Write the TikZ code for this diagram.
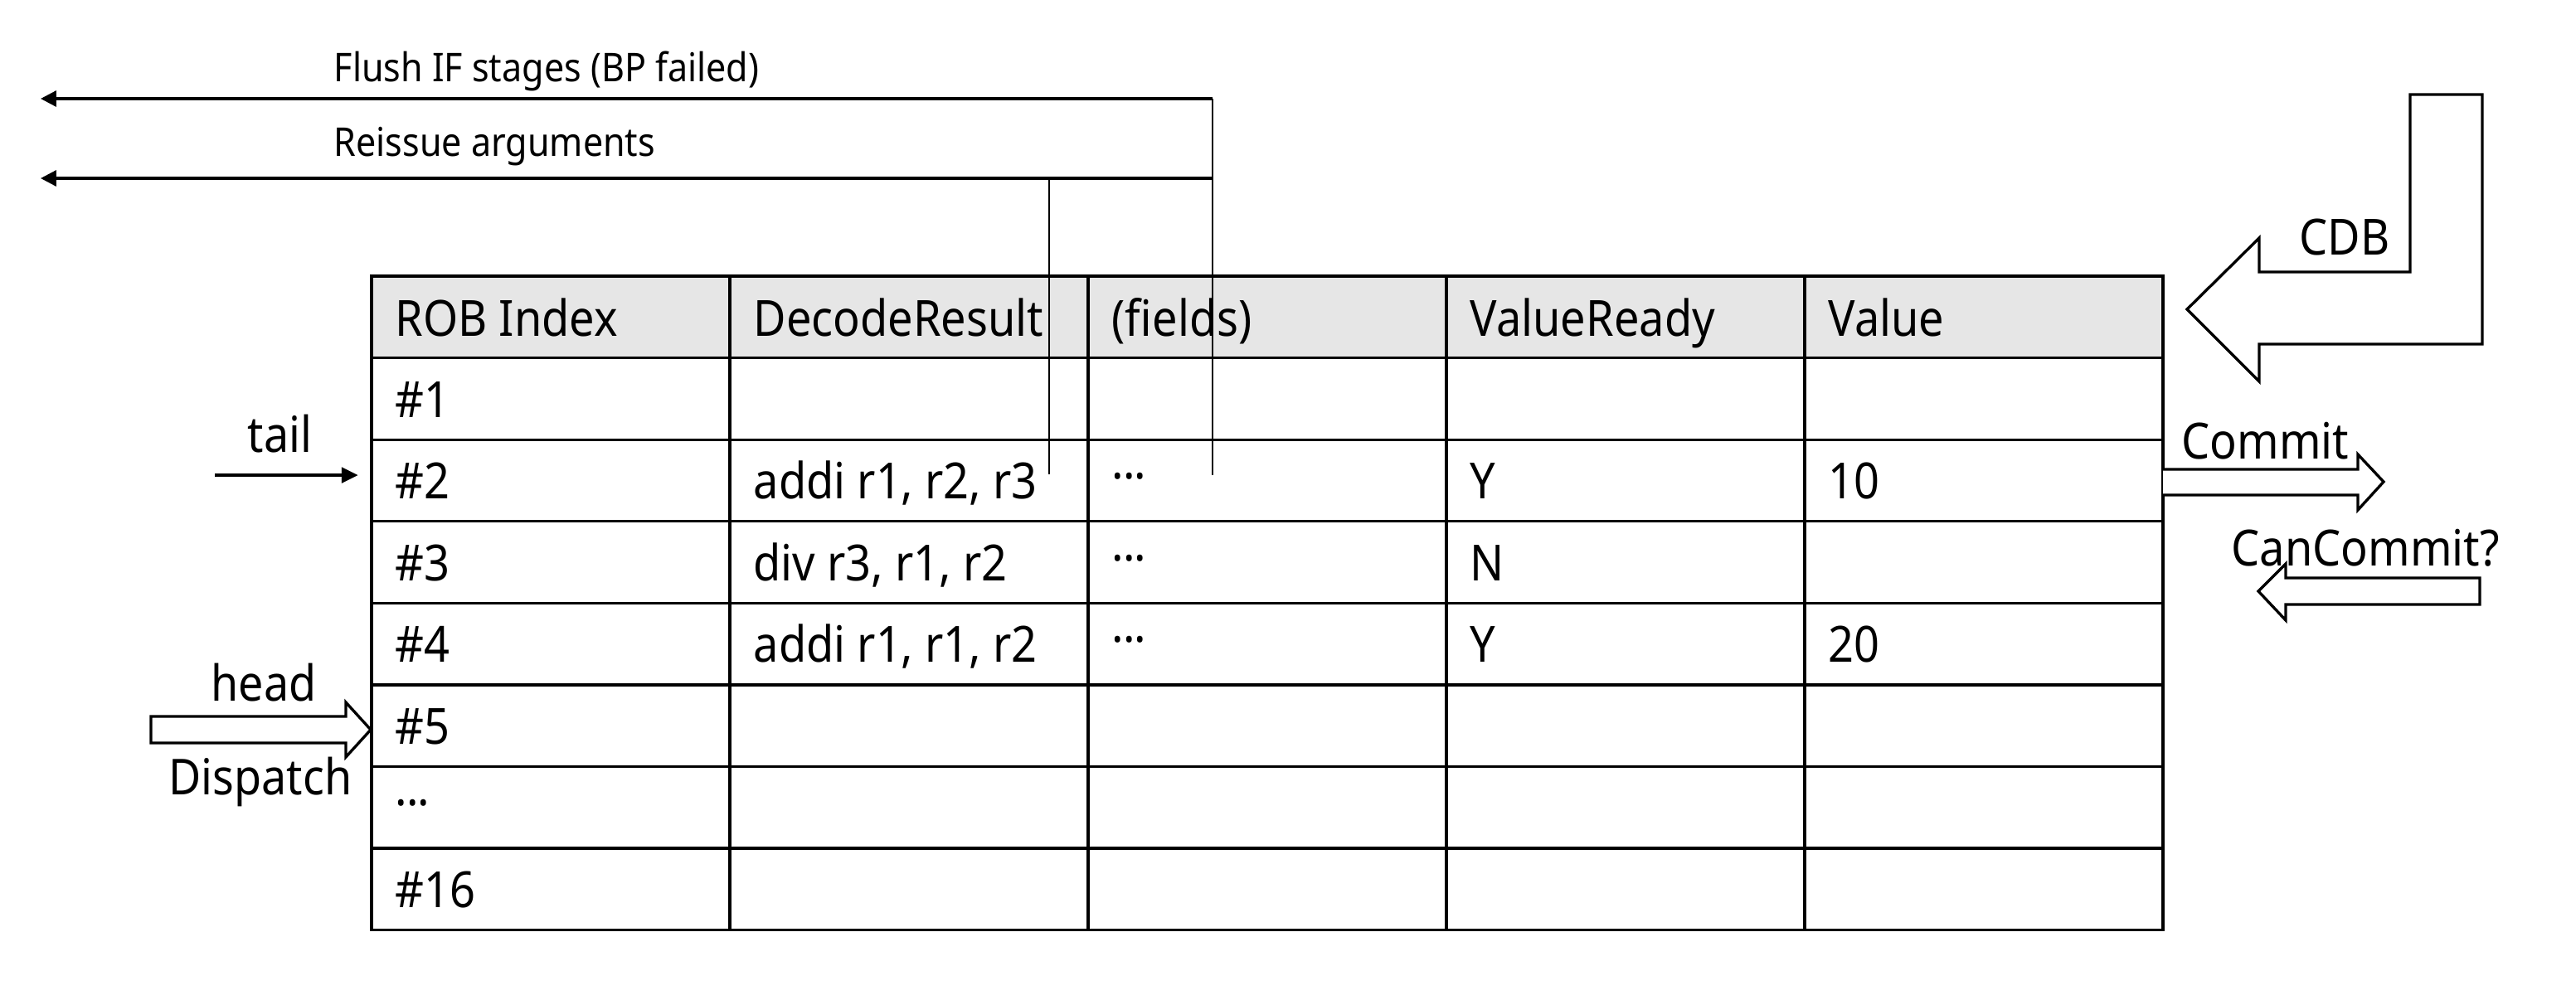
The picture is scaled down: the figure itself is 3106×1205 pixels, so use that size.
\documentclass[tikz,border=0pt]{standalone}
\usepackage{fontspec}
\setmainfont{Noto Sans}[FakeStretch=0.9]
\usetikzlibrary{arrows.meta}
\definecolor{headgray}{RGB}{230,230,230}
% centred three-dot ellipsis used in the table
\newcommand\middots{\raisebox{0.1em}{·\kern-0.02em·\kern-0.02em·}}
\begin{document}
\begin{tikzpicture}[x=0.01cm,y=-0.01cm,
  grid/.style={line width=0.9pt},
  celltext/.style={anchor=base west, inner sep=0pt, font=\fontsize{17.1}{20}\selectfont},
  sidelabel/.style={anchor=base west, inner sep=0pt, font=\fontsize{17}{20}\selectfont},
  wirelabel/.style={anchor=base west, inner sep=0pt, font=\fontsize{13.6}{16}\selectfont},
  wire/.style={line width=0.95pt, -{Triangle[length=5.4pt,width=5.4pt]}},
  tap/.style={line width=0.6pt},
  pointer/.style={line width=1.4pt, -{Triangle[length=5.7pt,width=5.1pt]}},
  hollow/.style={draw, line width=0.95pt, fill=white, line join=miter},
]
\useasboundingbox (0,0) rectangle (3106,1205);

% ---- reorder buffer table ----
\fill[headgray] (448,333) rectangle (2608,431.6);
\foreach \y in {431.6,530.1,628.7,727.3,825.9,924.4,1023}
  \draw[grid] (448,\y) -- (2608,\y);
\foreach \x in {880,1312,1744,2176}
  \draw[grid] (\x,333) -- (\x,1121.6);
\draw[grid] (448,333) rectangle (2608,1121.6);

% header row
\node[celltext] (hidx)  at (476,405) {ROB Index};
\node[celltext] (hdec)  at (908,405) {DecodeResult};
\node[celltext] (hfld)  at (1340,405) {(fields)};
\node[celltext] (hrdy)  at (1772,405) {ValueReady};
\node[celltext] (hval)  at (2204,405) {Value};

% entries
\node[celltext] (e1)  at (476,503)   {\#1};
\node[celltext] (e2)  at (476,601.5) {\#2};
\node[celltext] (e3)  at (476,700)   {\#3};
\node[celltext] (e4)  at (476,798.6) {\#4};
\node[celltext] (e5)  at (476,897)   {\#5};
\node[celltext] (e6)  at (476,995.7) {\middots};
\node[celltext] (e16) at (476,1094)  {\#16};

\node[celltext] (d2) at (908,601.5) {addi r1, r2, r3};
\node[celltext] (d3) at (908,700)   {div r3, r1, r2};
\node[celltext] (d4) at (908,798.6) {addi r1, r1, r2};

\node[celltext] (f2) at (1340,601.5) {\middots};
\node[celltext] (f3) at (1340,700)   {\middots};
\node[celltext] (f4) at (1340,798.6) {\middots};

\node[celltext] (r2) at (1772,601.5) {Y};
\node[celltext] (r3) at (1772,700)   {N};
\node[celltext] (r4) at (1772,798.6) {Y};

\node[celltext] (v2) at (2204,601.5) {10};
\node[celltext] (v4) at (2204,798.6) {20};

% ---- flush / reissue wires ----
\coordinate (flushtap)   at (1462,573);
\coordinate (flushbend)  at (1462,119);
\coordinate (flushend)   at (49,119);
\coordinate (reissuetap) at (1265,572);
\coordinate (reissuejoin) at (1265,215);
\coordinate (reissuebend) at (1462,215);
\coordinate (reissueend) at (49,215);

\draw[tap] (flushtap) -- (flushbend);
\draw[tap] (reissuetap) -- (reissuejoin);
\draw[wire] (flushbend) -- (flushend);
\draw[wire] (reissuebend) -- (reissueend);

\node[wirelabel] (flushlbl)   at (402,98)  {Flush IF stages (BP failed)};
\node[wirelabel] (reissuelbl) at (402,188) {Reissue arguments};

% ---- tail pointer ----
\coordinate (tailstart) at (259,573);
\coordinate (tailend)   at (432,573);
\draw[pointer] (tailstart) -- (tailend);
\node[sidelabel] (taillbl) at (298,545) {tail};

% ---- head pointer / dispatch (hollow arrow) ----
\draw[hollow] (182,864) -- (417,864) -- (417,847) -- (447,880)
  -- (417,913) -- (417,896) -- (182,896) -- cycle;
\node[sidelabel] (headlbl) at (254,845) {head};
\node[sidelabel] (displbl) at (203,958) {Dispatch};

% ---- CDB input ----
\draw[hollow] (2637,373) -- (2724,287) -- (2724,328) -- (2906,328)
  -- (2906,114) -- (2993,114) -- (2993,415) -- (2724,415)
  -- (2724,460) -- cycle;
\node[celltext, anchor=base] (cdblbl) at (2827,307) {CDB};

% ---- commit output ----
\draw[hollow] (2608,566) -- (2843,566) -- (2843,548) -- (2874,581)
  -- (2843,615) -- (2843,597) -- (2608,597);
\node[celltext] (commitlbl) at (2630,553) {Commit};

% ---- can-commit query ----
\draw[hollow] (2990,697) -- (2756,697) -- (2756,680) -- (2723,713)
  -- (2756,748) -- (2756,729) -- (2990,729) -- cycle;
\node[celltext] (cancommitlbl) at (2690,682) {CanCommit?};
\end{tikzpicture}
\end{document}
